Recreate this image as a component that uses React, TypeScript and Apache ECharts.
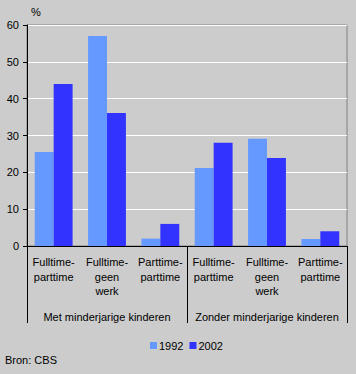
import React, { useEffect, useRef } from "react";
import * as echarts from "echarts";

const categories = [
  "Fulltime-\nparttime",
  "Fulltime-\ngeen\nwerk",
  "Parttime-\nparttime",
  "Fulltime-\nparttime",
  "Fulltime-\ngeen\nwerk",
  "Parttime-\nparttime",
];
const groups = ["Met minderjarige kinderen", "Zonder minderjarige kinderen"];
const series1992 = [25.5, 57, 2, 21.2, 29.1, 1.9];
const series2002 = [44, 36.1, 6, 28, 23.9, 4];
const yTicks = [0, 10, 20, 30, 40, 50, 60];

const FONT = "'Liberation Sans', Arial, sans-serif";

export default function App() {
  const ref = useRef<HTMLDivElement>(null);
  useEffect(() => {
    document.body.style.margin = "0";
    document.body.style.background = "#cccccc";
    const chart = echarts.init(ref.current!, null, { renderer: "svg" });
    chart.setOption({
      animation: false,
      backgroundColor: "#cccccc",
      textStyle: { fontFamily: FONT },
      grid: {
        left: 27,
        right: 9,
        top: 25,
        bottom: 128,
        show: true,
        borderColor: "#808080",
        borderWidth: 1,
        backgroundColor: "transparent",
      },
      legend: {
        left: 150,
        top: 340,
        padding: 0,
        itemWidth: 7,
        itemHeight: 7,
        itemGap: 6,
        icon: "rect",
        textStyle: { fontSize: 11, color: "#000", fontFamily: FONT, padding: [0, 0, 0, -3] },
        data: ["1992", "2002"],
      },
      xAxis: [
        {
          type: "category",
          data: categories,
          position: "bottom",
          axisLine: { show: true, lineStyle: { color: "#000", width: 1 } },
          axisTick: { show: false },
          axisLabel: {
            interval: 0,
            color: "#000",
            fontSize: 11,
            fontFamily: FONT,
            lineHeight: 14.5,
            margin: 9,
          },
        },
        {
          type: "category",
          data: groups,
          position: "bottom",
          axisLine: { show: false },
          axisTick: { show: true, length: 77, lineStyle: { color: "#000" } },
          axisLabel: {
            interval: 0,
            color: "#000",
            fontSize: 11,
            fontFamily: FONT,
            lineHeight: 14,
            margin: 64,
          },
        },
      ],
      yAxis: {
        type: "value",
        min: yTicks[0],
        max: yTicks[yTicks.length - 1],
        interval: 10,
        axisLine: { show: true, lineStyle: { color: "#000" } },
        axisTick: { show: true, length: 4, lineStyle: { color: "#000" } },
        axisLabel: { color: "#000", fontSize: 11, fontFamily: FONT, margin: 8 },
        splitLine: { show: true, lineStyle: { color: "#ffffff", width: 1 } },
      },
      series: [
        {
          name: "1992",
          type: "bar",
          data: series1992,
          itemStyle: { color: "#6699ff" },
          barGap: "0%",
          barCategoryGap: "29%",
        },
        {
          name: "2002",
          type: "bar",
          data: series2002,
          itemStyle: { color: "#3333ff" },
          barGap: "0%",
          barCategoryGap: "29%",
        },
      ],
      graphic: [
        {
          type: "text",
          left: 31,
          top: 6,
          style: { text: "%", fill: "#000", font: `11px ${FONT}` },
        },
        {
          type: "text",
          left: 5,
          top: 354,
          style: { text: "Bron: CBS", fill: "#000", font: `11px ${FONT}` },
        },
      ],
    });
    return () => chart.dispose();
  }, []);
  return <div ref={ref} style={{ width: 356, height: 374 }} />;
}
